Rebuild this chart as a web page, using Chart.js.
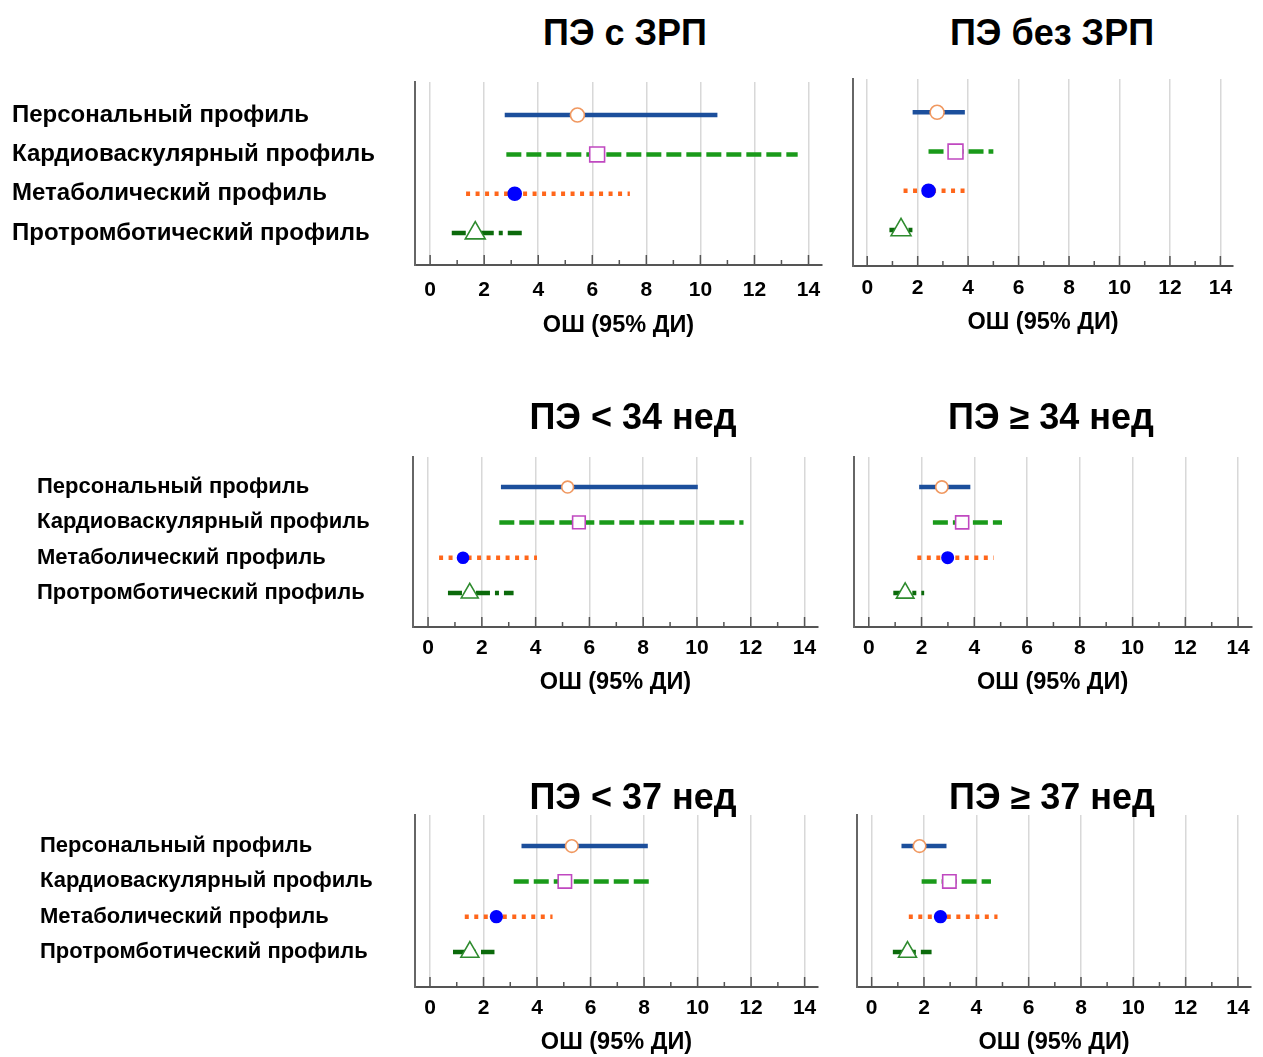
<!DOCTYPE html>
<html lang="ru">
<head>
<meta charset="utf-8">
<title>ОШ (95% ДИ) по профилям</title>
<script src="https://cdn.jsdelivr.net/npm/chart.js@4.4.1/dist/chart.umd.min.js"></script>
<style>
  body { margin: 0; background: #fff; font-family: "Liberation Sans", Arial, sans-serif; }
  #page { position: relative; width: 1263px; height: 1057px; overflow: hidden; }
  #page canvas { position: absolute; }
  .panel-title { position: absolute; z-index: 2; font-weight: bold; font-size: 36px; line-height: 40px;
                 transform: translateX(-50%); white-space: nowrap; color: #000; }
</style>
</head>
<body>
<div id="page"></div>
<script>
// Профили риска - строки каждой панели
const profiles = ['Персональный профиль', 'Кардиоваскулярный профиль', 'Метаболический профиль', 'Протромботический профиль'];

// Подгруппы
const panelTitles = ['ПЭ с ЗРП', 'ПЭ без ЗРП', 'ПЭ < 34 нед', 'ПЭ ≥ 34 нед', 'ПЭ < 37 нед', 'ПЭ ≥ 37 нед'];

// ОШ и 95% ДИ, по панелям (порядок строк как в profiles)
const orLower = [
    [2.76, 2.82, 1.33, 0.80],
    [1.80, 2.43, 1.44, 0.88],
    [2.71, 2.65, 0.41, 0.74],
    [1.91, 2.43, 1.84, 0.93],
    [3.42, 3.13, 1.30, 0.86],
    [1.14, 1.91, 1.42, 0.81]
];
const orValue = [
    [5.45, 6.18, 3.13, 1.67],
    [2.77, 3.50, 2.43, 1.34],
    [5.19, 5.61, 1.30, 1.55],
    [2.77, 3.54, 2.99, 1.38],
    [5.30, 5.04, 2.48, 1.49],
    [1.83, 2.97, 2.63, 1.37]
];
const orUpper = [
    [10.63, 13.60, 7.39, 3.52],
    [3.87, 5.00, 3.90, 1.81],
    [10.03, 11.73, 4.05, 3.18],
    [3.85, 5.05, 4.74, 2.10],
    [8.14, 8.29, 4.58, 2.41],
    [2.86, 4.56, 4.81, 2.29]
];

// Шкала ОШ
const xMajorTicks = [0, 2, 4, 6, 8, 10, 12, 14];
const xMinorTicks = [1, 3, 5, 7, 9, 11, 13];
const axisTitle = 'ОШ (95% ДИ)';

// стиль строк
const rowStyles = [
    { line: '#1c4f9c', dash: [], marker: 'circle', fill: '#ffffff', edge: '#f09860', r: 7 },
    { line: '#1a9a1a', dash: [15, 5], marker: 'rect', fill: '#ffffff', edge: '#c048c0', r: 10.5 },
    { line: '#ff661a', dash: [4, 5.5], marker: 'circle', fill: '#0000ff', edge: '#0000ff', r: 6.5 },
    { line: '#0b6a0b', dash: [14, 5, 4, 5], marker: 'triangle', fill: '#ffffff', edge: '#2e8b2e', r: 11.5 }
];

// положение панелей на странице
const panelBoxes = [
    { left: 0,   right: 840,  bottom: 342,  labelX: 12, labelSize: 24,   plot: [415, 82, 822, 265],  tickY: 290,  titleX: 625,  titleY: 33,  axisY: 326,  yRange: [0.16, 4.81], mk: 1 },
    { left: 840, right: 1263, bottom: 340,  labelX: 0,  labelSize: 0,    plot: [853, 79, 1233, 266], tickY: 288,  titleX: 1052, titleY: 33,  axisY: 323,  yRange: [0.15, 4.92], mk: 1 },
    { left: 0,   right: 840,  bottom: 700,  labelX: 37, labelSize: 22,   plot: [413, 457, 818, 627], tickY: 648,  titleX: 633,  titleY: 417, axisY: 683,  yRange: [0.15, 4.96], mk: 0.85 },
    { left: 840, right: 1263, bottom: 700,  labelX: 0,  labelSize: 0,    plot: [854, 457, 1258, 627], tickY: 648, titleX: 1051, titleY: 417, axisY: 683,  yRange: [0.15, 4.96], mk: 0.88 },
    { left: 0,   right: 840,  bottom: 1057, labelX: 40, labelSize: 22,   plot: [415, 815, 818, 987], tickY: 1008, titleX: 633,  titleY: 797, axisY: 1043, yRange: [0.12, 4.99], mk: 0.9 },
    { left: 840, right: 1263, bottom: 1057, labelX: 0,  labelSize: 0,    plot: [857, 815, 1258, 987], tickY: 1008, titleX: 1052, titleY: 797, axisY: 1043, yRange: [0.12, 4.99], mk: 0.9 }
];

Chart.defaults.font.family = '"Liberation Sans", Arial, sans-serif';
Chart.defaults.font.weight = 'bold';
Chart.defaults.color = '#000';

// насечки оси X внутрь области графика
const innerTicks = {
    id: 'innerTicks',
    afterDraw(chart) {
        const { ctx, chartArea } = chart;
        const x = chart.scales.x;
        ctx.save();
        ctx.strokeStyle = '#555';
        ctx.lineWidth = 1.5;
        ctx.beginPath();
        xMajorTicks.forEach(v => {
            const px = x.getPixelForValue(v);
            ctx.moveTo(px, chartArea.bottom);
            ctx.lineTo(px, chartArea.bottom - 10);
        });
        xMinorTicks.forEach(v => {
            const px = x.getPixelForValue(v);
            ctx.moveTo(px, chartArea.bottom);
            ctx.lineTo(px, chartArea.bottom - 5);
        });
        ctx.stroke();
        ctx.restore();
    }
};

const page = document.getElementById('page');

panelBoxes.forEach((box, p) => {
    const [pl, pt, pr, pb] = box.plot;
    const top = pt - 25;
    const w = box.right - box.left;
    const h = box.bottom - top;

    const canvas = document.createElement('canvas');
    canvas.width = w;
    canvas.height = h;
    canvas.style.left = box.left + 'px';
    canvas.style.top = top + 'px';
    page.appendChild(canvas);

    const title = document.createElement('div');
    title.className = 'panel-title';
    title.textContent = panelTitles[p];
    title.style.left = box.titleX + 'px';
    title.style.top = (box.titleY - 20) + 'px';
    page.appendChild(title);

    const datasets = [{
        type: 'scatter',
        order: 0,
        data: orValue[p].map((v, i) => ({ x: v, y: i + 1 })),
        pointStyle: rowStyles.map(s => s.marker),
        pointRadius: rowStyles.map(s => s.r * box.mk),
        pointBackgroundColor: rowStyles.map(s => s.fill),
        pointBorderColor: rowStyles.map(s => s.edge),
        pointBorderWidth: 1.6
    }];
    profiles.forEach((name, i) => {
        const s = rowStyles[i];
        datasets.push({
            type: 'line',
            order: 1,
            label: name,
            data: [{ x: orLower[p][i], y: i + 1 }, { x: orUpper[p][i], y: i + 1 }],
            borderColor: s.line,
            borderWidth: 4.5,
            borderDash: s.dash,
            borderCapStyle: 'butt',
            pointRadius: 0
        });
    });

    const hasLabels = box.labelSize > 0;

    new Chart(canvas, {
        data: { datasets },
        options: {
            responsive: false,
            animation: false,
            devicePixelRatio: 1,
            events: [],
            layout: {
                padding: { left: box.labelX, top: pt - top, right: box.right - pr, bottom: 0 }
            },
            plugins: { legend: { display: false }, tooltip: { enabled: false } },
            scales: {
                x: {
                    type: 'linear',
                    min: -0.56,
                    max: 14.5,
                    afterBuildTicks: s => { s.ticks = xMajorTicks.map(v => ({ value: v })); },
                    afterFit: s => { s.height = box.bottom - pb; },
                    ticks: { font: { size: 21, weight: 'bold' }, padding: box.tickY - pb - 12.6, maxRotation: 0 },
                    grid: { color: '#d8d8d8', lineWidth: 1.5, drawTicks: false },
                    border: { color: '#555', width: 2 },
                    title: {
                        display: true,
                        text: axisTitle,
                        font: { size: 23.5, weight: 'bold' },
                        padding: { top: 0, bottom: box.bottom - box.axisY - 14.1 }
                    }
                },
                y: {
                    type: 'linear',
                    reverse: true,
                    min: box.yRange[0],
                    max: box.yRange[1],
                    afterBuildTicks: s => { s.ticks = profiles.map((_, i) => ({ value: i + 1 })); },
                    afterFit: s => { s.width = pl - box.left - box.labelX; },
                    ticks: {
                        display: hasLabels,
                        crossAlign: 'far',
                        font: { size: box.labelSize || 12, weight: 'bold' },
                        callback: v => profiles[v - 1]
                    },
                    grid: { display: false, drawTicks: false },
                    border: { color: '#666', width: 2 }
                }
            }
        },
        plugins: [innerTicks]
    });
});
</script>
</body>
</html>
